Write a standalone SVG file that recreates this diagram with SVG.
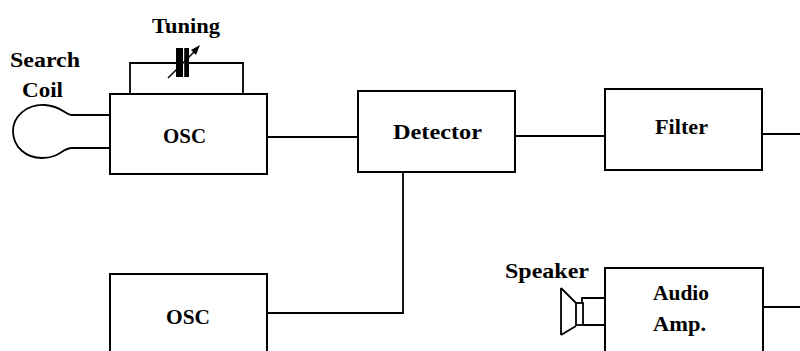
<svg xmlns="http://www.w3.org/2000/svg" width="800" height="351" viewBox="0 0 800 351">
<style>
.box{fill:#fff;stroke:#000;stroke-width:2}
.wire{fill:none;stroke:#000;stroke-width:1.8}
.t{font-family:"Liberation Serif","Times New Roman",serif;font-weight:bold;font-size:22px;fill:#000}
</style>
<rect width="800" height="351" fill="#fff"/>
<g id="connectors">
<path class="wire" d="M267 137 H358"/>
<path class="wire" d="M515 136 H605"/>
<path class="wire" d="M762 134 H800"/>
<path class="wire" d="M403 172 V313 H267"/>
<path class="wire" d="M763 307 H800"/>
</g>
<g id="search-coil">
<path class="wire" d="M110 115 H72 C65 115 62 106 45 105 C26 104 13 117 13 131 C13 147 26 158 42 158 C60 158 62 148 72 148 H110"/>
<text class="t" x="10" y="67" textLength="70" lengthAdjust="spacingAndGlyphs">Search</text>
<text class="t" x="22" y="97" textLength="41" lengthAdjust="spacingAndGlyphs">Coil</text>
</g>
<g id="tuning">
<path class="wire" d="M130 94 V63 H243 V94"/>
<rect x="176" y="48" width="13" height="29" fill="#000"/>
<rect x="183" y="48" width="1.2" height="29" fill="#fff"/>
<line x1="168" y1="78" x2="197" y2="49" stroke="#000" stroke-width="1.5"/>
<path d="M200 45 L191 50 L196 55 Z" fill="#000"/>
<text class="t" x="152" y="33" textLength="68" lengthAdjust="spacingAndGlyphs">Tuning</text>
</g>
<g id="osc1">
<rect class="box" x="110" y="94" width="157" height="80"/>
<text class="t" x="163" y="143" textLength="43" lengthAdjust="spacingAndGlyphs">OSC</text>
</g>
<g id="detector">
<rect class="box" x="358" y="91" width="157" height="81"/>
<text class="t" x="393" y="139" textLength="89" lengthAdjust="spacingAndGlyphs">Detector</text>
</g>
<g id="filter">
<rect class="box" x="605" y="89" width="157" height="81"/>
<text class="t" x="655" y="134" textLength="53" lengthAdjust="spacingAndGlyphs">Filter</text>
</g>
<g id="osc2">
<rect class="box" x="110" y="274" width="157" height="90"/>
<text class="t" x="166" y="324" textLength="44" lengthAdjust="spacingAndGlyphs">OSC</text>
</g>
<g id="audio-amp">
<rect class="box" x="605" y="268" width="158" height="96"/>
<text class="t" x="653" y="300" textLength="56" lengthAdjust="spacingAndGlyphs">Audio</text>
<text class="t" x="653" y="331" textLength="53" lengthAdjust="spacingAndGlyphs">Amp.</text>
</g>
<g id="speaker">
<path class="wire" d="M561 288 V335 M561 288 L576 303 M561 335 L576 326"/>
<rect x="576" y="303" width="7" height="22" fill="#fff" stroke="#000" stroke-width="1.8"/>
<path class="wire" d="M605 298 H582 V303 M583 325 H605"/>
<text class="t" x="505" y="278" textLength="84" lengthAdjust="spacingAndGlyphs">Speaker</text>
</g>
</svg>
